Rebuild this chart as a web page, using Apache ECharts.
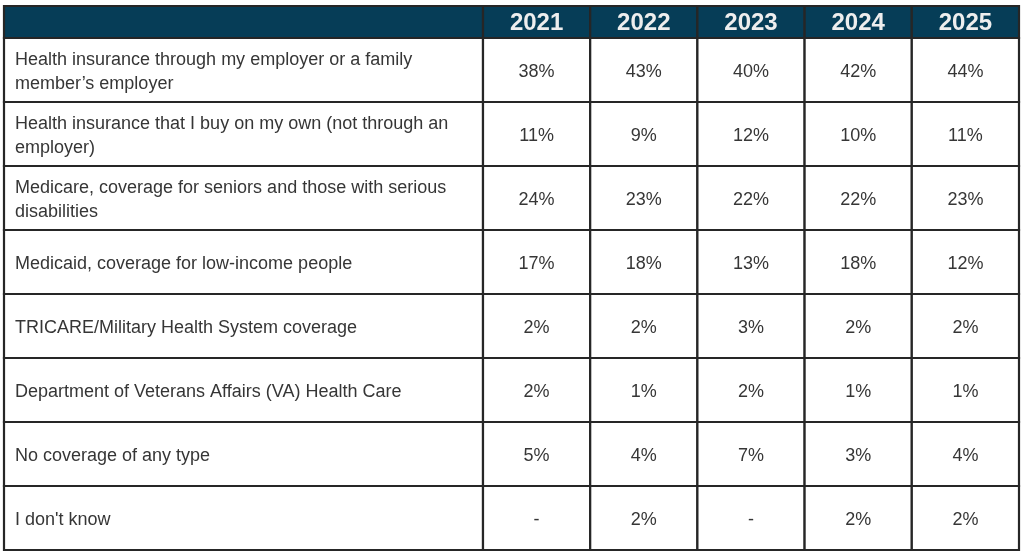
<!DOCTYPE html>
<html>
<head>
<meta charset="utf-8">
<script src="https://cdn.jsdelivr.net/npm/echarts@6/dist/echarts.min.js"></script>
<style>
  html, body { margin: 0; padding: 0; background: #fff; }
  #chart { width: 1024px; height: 552px; }
</style>
</head>
<body>
<div id="chart"></div>
<script>
// table content
const years = ['2021', '2022', '2023', '2024', '2025']
const rowLabels = [
  'Health insurance through my employer or a family\nmember\u2019s employer',
  'Health insurance that I buy on my own (not through an\nemployer)',
  'Medicare, coverage for seniors and those with serious\ndisabilities',
  'Medicaid, coverage for low-income people',
  'TRICARE/Military Health System coverage',
  'Department of Veterans Affairs (VA) Health Care',
  'No coverage of any type',
  "I don't know"
]
// null = "-" in the source table
const v2021 = [38, 11, 24, 17, 2, 2, 5, null]
const v2022 = [43, 9, 23, 18, 2, 1, 4, 2]
const v2023 = [40, 12, 22, 13, 3, 2, 7, null]
const v2024 = [42, 10, 22, 18, 2, 1, 3, 2]
const v2025 = [44, 11, 23, 12, 2, 1, 4, 2]

const yearValues = [v2021, v2022, v2023, v2024, v2025]
const rowIdx = rowLabels.map((_, i) => String(i))

const HEAD = '#063d57'
const LINE = '#262626'
const TEXT = '#363636'
const FONT = '"Liberation Sans", Arial, sans-serif'

const fmt = v => (v == null ? '-' : v + '%')

// one cell = band of the category axes
const cell = (api, fill, text, style, dy) => {
  const c = api.coord([api.value(0), api.value(1)])
  const s = api.size([1, 1])
  const x = c[0] - s[0] / 2
  const y = c[1] - s[1] / 2
  return {
    type: 'group',
    children: [
      { type: 'rect', shape: { x, y, width: s[0], height: s[1] },
        style: { fill, stroke: LINE, lineWidth: 2.2 } },
      { type: 'text',
        style: Object.assign({
          text, x: style.align === 'left' ? x + 11 : c[0], y: c[1] + dy,
          verticalAlign: 'middle', fontFamily: FONT
        }, style) }
    ]
  }
}

const grids = [
  { left: 4, top: 6, width: 479, height: 32 },    // header, label column
  { left: 483, top: 6, width: 536, height: 32 },  // header, years
  { left: 4, top: 38, width: 479, height: 512 },  // body labels
  { left: 483, top: 38, width: 536, height: 512 } // body values
]

const hiddenCat = (gridIndex, data, inverse) => ({
  type: 'category', gridIndex, data, inverse: !!inverse, show: false
})

const valueCells = []
yearValues.forEach((arr, c) => arr.forEach((v, r) => valueCells.push([c, r])))

const chart = echarts.init(document.getElementById('chart'))
chart.setOption({
  animation: false,
  backgroundColor: '#fff',
  grid: grids,
  xAxis: [
    hiddenCat(0, ['']),
    hiddenCat(1, years),
    hiddenCat(2, ['']),
    hiddenCat(3, years)
  ],
  yAxis: [
    hiddenCat(0, ['h']),
    hiddenCat(1, ['h']),
    hiddenCat(2, rowIdx, true),
    hiddenCat(3, rowIdx, true)
  ],
  series: [
    {
      type: 'custom', xAxisIndex: 0, yAxisIndex: 0,
      data: [[0, 0]],
      renderItem: (p, api) => cell(api, HEAD, '', { align: 'center' }, 0)
    },
    {
      type: 'custom', xAxisIndex: 1, yAxisIndex: 1,
      data: years.map((_, i) => [i, 0]),
      renderItem: (p, api) => cell(api, HEAD, years[p.dataIndex], {
        align: 'center', fill: '#eeeeee', fontSize: 24, fontWeight: 'bold'
      }, 1)
    },
    {
      type: 'custom', xAxisIndex: 2, yAxisIndex: 2,
      data: rowLabels.map((_, i) => [0, i]),
      renderItem: (p, api) => cell(api, '#fff', rowLabels[p.dataIndex], {
        align: 'left', fill: TEXT, fontSize: 18, lineHeight: 24
      }, 2)
    },
    {
      type: 'custom', xAxisIndex: 3, yAxisIndex: 3,
      data: valueCells,
      renderItem: (p, api) => {
        const d = valueCells[p.dataIndex]
        return cell(api, '#fff', fmt(yearValues[d[0]][d[1]]), {
          align: 'center', fill: TEXT, fontSize: 18
        }, 2)
      }
    }
  ]
})
</script>
</body>
</html>
